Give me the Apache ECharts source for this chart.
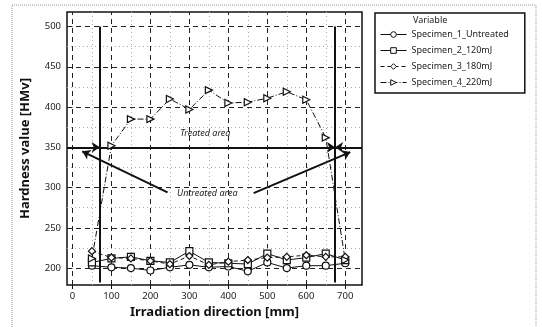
<!DOCTYPE html>
<html>
<head>
<meta charset="utf-8">
<script src="https://cdn.jsdelivr.net/npm/echarts@6/dist/echarts.min.js"></script>
<style>
  html, body { margin: 0; padding: 0; background: #fff; }
  #chart { width: 542px; height: 327px; }
</style>
</head>
<body>
<div id="chart"></div>
<script>
// measuring positions along the specimen [mm]
const positions = [50, 100, 150, 200, 250, 300, 350, 400, 450, 500, 550, 600, 650, 700]
// hardness values [HMv]
const untreated = [203, 201, 200, 197, 201, 204, 201, 202, 196, 207, 200, 203, 203, 206]
const mj120 = [207, 212, 214, 209, 207, 221, 207, 206, 205, 218, 210, 213, 218, 210]
const mj180 = [221, 213, 212, 209, 205, 215, 204, 208, 210, 213, 214, 216, 214, 214]
const mj220 = [212, 352, 385, 385, 410, 397, 421, 405, 406, 411, 419, 409, 362, 210]

const seriesNames = ['Specimen_1_Untreated', 'Specimen_2_120mJ', 'Specimen_3_180mJ', 'Specimen_4_220mJ']

// tick labels
const xTicks = [0, 100, 200, 300, 400, 500, 600, 700]
const xMinorTicks = [50, 150, 250, 350, 450, 550, 650]
const yTicks = [200, 250, 300, 350, 400, 450, 500]
const yMinorTicks = [225, 275, 325, 375, 425, 475]

// annotation: treated zone boundaries and level line
const boundaries = [70, 674]
const boundaryTop = 500
const boundaryBottom = 182
const treatedLevel = 350
const treatedLabel = [341, 367]
const untreatedLabel = [346, 293]
const leftArrow = [[244, 294], [25, 345]]
const rightArrow = [[465, 293], [713, 344]]

const FONT = 'Noto Sans'
const xMin = -14
const xMax = 743
const yMin = 179
const yMax = 518

const chart = echarts.init(document.getElementById('chart'))

const pair = arr => positions.map((x, i) => [x, arr[i]])

const makeSeries = (name, arr, symbol, lineType, extra) => Object.assign({
  type: 'line',
  name: name,
  data: pair(arr),
  symbol: symbol,
  symbolSize: 7,
  z: 5,
  lineStyle: { color: '#111', width: 1, type: lineType },
  itemStyle: { color: '#fff', borderColor: '#111', borderWidth: 1.2 }
}, extra || {})

const gridLines = []
xTicks.forEach(v => gridLines.push({ xAxis: v, lineStyle: { color: '#222', width: 1, type: [5, 4] } }))
xMinorTicks.forEach(v => gridLines.push({ xAxis: v, lineStyle: { color: '#aaa', width: 1, type: [1, 3] } }))
yTicks.forEach(v => gridLines.push({ yAxis: v, lineStyle: { color: '#222', width: 1, type: [5, 4] } }))
yMinorTicks.forEach(v => gridLines.push({ yAxis: v, lineStyle: { color: '#aaa', width: 1, type: [1, 3] } }))

const solid = { color: '#111', width: 2, type: 'solid' }
const annoLines = []
boundaries.forEach(b => annoLines.push([
  { coord: [b, boundaryTop], symbol: 'none', lineStyle: solid },
  { coord: [b, boundaryBottom], symbol: 'none' }
]))
annoLines.push([
  { coord: [xMin, treatedLevel], symbol: 'none', lineStyle: solid },
  { coord: [boundaries[0], treatedLevel], symbol: 'arrow' }
])
annoLines.push([
  { coord: [boundaries[0], treatedLevel], symbol: 'none', lineStyle: solid },
  { coord: [boundaries[1], treatedLevel], symbol: 'arrow' }
])
annoLines.push([
  { coord: [xMax, treatedLevel], symbol: 'none', lineStyle: solid },
  { coord: [boundaries[1], treatedLevel], symbol: 'arrow' }
])
annoLines.push([
  { coord: leftArrow[0], symbol: 'none', lineStyle: solid },
  { coord: leftArrow[1], symbol: 'arrow' }
])
annoLines.push([
  { coord: rightArrow[0], symbol: 'none', lineStyle: solid },
  { coord: rightArrow[1], symbol: 'arrow' }
])

const option = {
  animation: false,
  textStyle: { fontFamily: FONT },
  grid: {
    left: 67,
    top: 12,
    right: 180,
    bottom: 42,
    show: true,
    borderColor: '#111',
    borderWidth: 1.5,
    backgroundColor: 'transparent'
  },
  graphic: [
    {
      type: 'rect',
      shape: { x: 12, y: 5, width: 524, height: 340 },
      style: { fill: 'none', stroke: '#999', lineWidth: 1, lineDash: [1, 1] },
      silent: true,
      z: -1
    },
    {
      type: 'text',
      left: 413,
      top: 16,
      style: { text: 'Variable', fontSize: 9, fontFamily: FONT, fill: '#222' }
    }
  ],
  legend: {
    data: seriesNames,
    orient: 'vertical',
    left: 375,
    top: 13,
    itemWidth: 26,
    itemHeight: 7,
    itemGap: 7,
    padding: [17, 16, 6, 5],
    borderColor: '#111',
    borderWidth: 1.5,
    lineStyle: { width: 1 },
    itemStyle: { borderWidth: 1 },
    textStyle: { fontSize: 9, color: '#222', fontFamily: FONT }
  },
  xAxis: {
    type: 'value',
    min: xMin,
    max: xMax,
    name: 'Irradiation direction [mm]',
    nameLocation: 'middle',
    nameGap: 20,
    nameTextStyle: { fontSize: 13, fontWeight: 'bold', color: '#111', fontFamily: FONT },
    axisLine: { show: false },
    splitLine: { show: false },
    axisTick: { show: true, customValues: xTicks, length: 4, lineStyle: { color: '#111' } },
    axisLabel: { customValues: xTicks, fontSize: 9.5, color: '#222', margin: 6 }
  },
  yAxis: {
    type: 'value',
    min: yMin,
    max: yMax,
    name: 'Hardness value [HMv]',
    nameLocation: 'middle',
    nameGap: 35,
    nameTextStyle: { fontSize: 13, fontWeight: 'bold', color: '#111', fontFamily: FONT },
    axisLine: { show: false },
    splitLine: { show: false },
    axisTick: { show: true, customValues: yTicks, length: 4, lineStyle: { color: '#111' } },
    axisLabel: { customValues: yTicks, fontSize: 9.5, color: '#222', margin: 6 }
  },
  series: [
    {
      type: 'line',
      name: 'grid',
      data: [],
      z: 1,
      silent: true,
      markLine: {
        silent: true,
        symbol: 'none',
        label: { show: false },
        animation: false,
        data: gridLines
      }
    },
    {
      type: 'line',
      name: 'annotations',
      data: [],
      z: 3,
      silent: true,
      markLine: {
        silent: true,
        symbol: 'none',
        symbolSize: 8,
        label: { show: false },
        animation: false,
        data: annoLines
      },
      markPoint: {
        silent: true,
        symbol: 'circle',
        symbolSize: 0,
        label: {
          show: true,
          fontSize: 9,
          fontStyle: 'italic',
          color: '#222',
          fontFamily: FONT
        },
        data: [
          { coord: treatedLabel, value: 'Treated area', label: { formatter: 'Treated area' } },
          { coord: untreatedLabel, value: 'Untreated area', label: { formatter: 'Untreated area' } }
        ]
      }
    },
    makeSeries(seriesNames[0], untreated, 'circle', 'solid'),
    makeSeries(seriesNames[1], mj120, 'rect', 'solid'),
    makeSeries(seriesNames[2], mj180, 'diamond', [4, 3]),
    makeSeries(seriesNames[3], mj220, 'triangle', [6, 2, 1, 2], { symbolRotate: -90 })
  ]
}

chart.setOption(option)
</script>
</body>
</html>
